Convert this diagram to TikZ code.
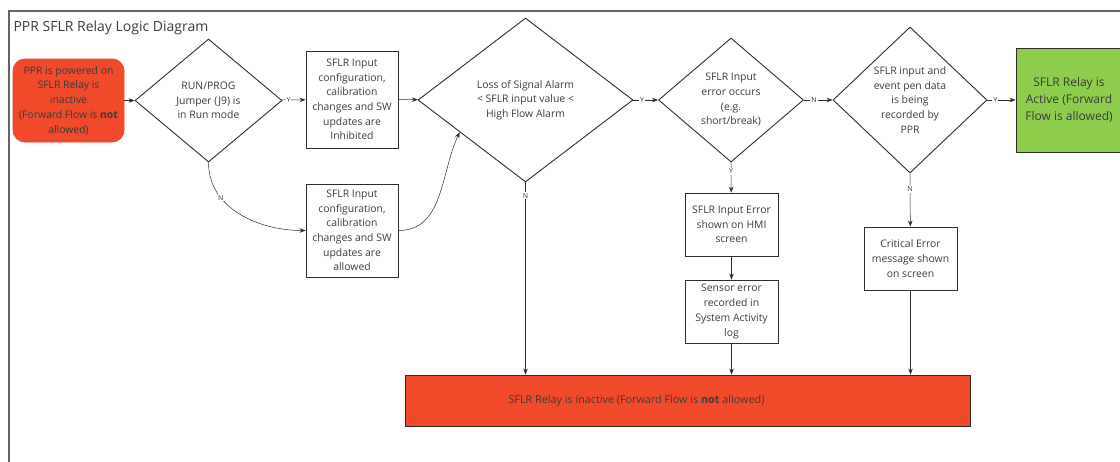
\documentclass[tikz,border=0pt]{standalone}
\usepackage{fontspec}
\setmainfont{Open Sans}
\usetikzlibrary{shapes.geometric,arrows.meta,positioning,calc}
\definecolor{pprred}{RGB}{240,74,42}
\definecolor{pprgreen}{RGB}{140,205,76}
\definecolor{pprtext}{RGB}{60,60,60}
\definecolor{pprline}{RGB}{45,45,45}
\definecolor{pprframe}{RGB}{100,100,100}
\tikzset{
  box/.style={draw=pprline, line width=0.9pt, align=center, inner sep=1pt, text=pprtext,
    font=\fontsize{10.4}{14.7}\selectfont},
  decision/.style={diamond, draw=pprline, line width=0.9pt, align=center, inner sep=0pt,
    text=pprtext, font=\fontsize{10.4}{14.7}\selectfont},
  flow/.style={-{Stealth[length=6pt,width=4.5pt]}, line width=0.5pt, color=pprline},
  yn/.style={font=\fontsize{7}{8}\selectfont, text=pprtext, fill=white, inner sep=1pt},
}

\begin{document}
\begin{tikzpicture}[x=1pt, y=-1pt]
    \useasboundingbox (0,0) rectangle (1120,461);
    % Frame and title
    \draw[pprframe, line width=1.2pt] (9,480) -- (9,11) -- (1140,11);
    \node[anchor=west, text=pprtext, font=\fontsize{14}{16}\selectfont] (title) at (10,28) {PPR SFLR Relay Logic Diagram};

    % Start and decisions along the main row
    \node[box, fill=pprred, draw=pprred, rounded corners=12pt, minimum width=111pt, minimum height=83pt] (start) at (68.5,100.5)
      {PPR is powered on\\SFLR Relay is\\inactive\\(Forward Flow is \textbf{not}\\allowed)};
    \node[decision, minimum width=147pt, minimum height=123pt] (jumper) at (208.5,100.5)
      {RUN/PROG\\Jumper (J9) is\\in Run mode};
    \node[box, minimum width=92pt, minimum height=97pt] (inhibit) at (352,99.5)
      {SFLR Input\\configuration,\\calibration\\changes and SW\\updates are\\Inhibited};
    \node[box, minimum width=92pt, minimum height=93pt] (allow) at (352,230.5)
      {SFLR Input\\configuration,\\calibration\\changes and SW\\updates are\\allowed};
    \node[decision, minimum width=215pt, minimum height=164pt] (losalarm) at (525.5,100)
      {Loss of Signal Alarm\\< SFLR input value <\\High Flow Alarm};
    \node[decision, minimum width=145pt, minimum height=124pt] (inerr) at (731,100)
      {SFLR Input\\error occurs\\(e.g.\\short/break)};
    \node[decision, minimum width=154pt, minimum height=146pt] (recording) at (910,100)
      {SFLR input and\\event pen data\\is being\\recorded by\\PPR};
    \node[box, fill=pprgreen, minimum width=106pt, minimum height=104pt, font=\fontsize{12}{17}\selectfont] (active) at (1069,100)
      {SFLR Relay is\\Active (Forward\\Flow is allowed)};

    % Error branches
    \node[box, minimum width=93pt, minimum height=63pt] (hmierr) at (731.5,224.5)
      {SFLR Input Error\\shown on HMI\\screen};
    \node[box, minimum width=93pt, minimum height=63pt] (sensorlog) at (731.5,311.5)
      {Sensor error\\recorded in\\System Activity\\log};
    \node[box, minimum width=93pt, minimum height=63pt] (criterr) at (910.5,258.5)
      {Critical Error\\message shown\\on screen};
    \node[box, fill=pprred, minimum width=565pt, minimum height=51pt, font=\fontsize{10.8}{14}\selectfont] (inactive) at (687.5,400.5)
      {SFLR Relay is inactive (Forward Flow is \textbf{not} allowed)\hspace*{102pt}};

    % Connectors
    \draw[flow] (start) -- (jumper);
    \draw[flow] (jumper) -- node[yn, pos=0.28] {Y} (inhibit);
    \draw[flow] (jumper.south) to[out=-90, in=180] node[yn, pos=0.3] {N} (allow.west);
    \draw[flow] (inhibit) -- (losalarm);
    \draw[flow] (allow.east) to[out=0, in=-115] ($(losalarm.west)!0.39!(losalarm.south)$);
    \draw[flow] (losalarm) -- node[yn, pos=0.35] {Y} (inerr);
    \draw[flow] (inerr) -- node[yn, pos=0.35] {N} (recording);
    \draw[flow] (recording) -- node[yn, pos=0.28] {Y} (active);
    \draw[flow] (losalarm.south) -- node[yn, pos=0.07] {N} (losalarm.south |- inactive.north);
    \draw[flow] (inerr.south) -- node[yn, pos=0.3] {Y} (hmierr);
    \draw[flow] (hmierr) -- (sensorlog);
    \draw[flow] (sensorlog.south) -- (sensorlog.south |- inactive.north);
    \draw[flow] (recording.south) -- node[yn, pos=0.3] {N} (criterr);
    \draw[flow] (criterr.south) -- (criterr.south |- inactive.north);
\end{tikzpicture}
\end{document}
